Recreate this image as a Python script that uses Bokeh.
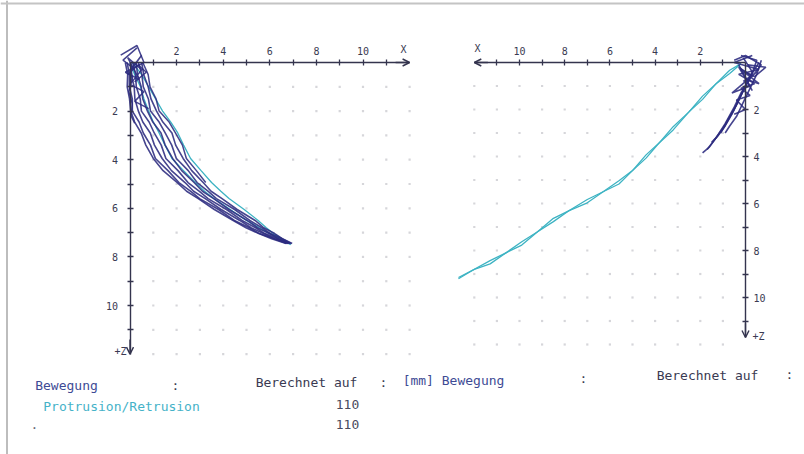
from bokeh.plotting import figure
from bokeh.models import Range1d, LinearAxis, FixedTicker, Arrow, OpenHead, Label, Span
from bokeh.embed import file_html
from bokeh.resources import INLINE

# ---------------- data ----------------
major_ticks = [2, 4, 6, 8, 10]
minor_ticks = [1, 3, 5, 7, 9, 11]
grid_steps = list(range(1, 13))

# left panel: bundle of navy traces sampled at common depths z (mm)
left_band_z = [0.0, 0.5, 1.0, 1.5, 2.0, 2.45, 2.9, 3.4, 3.95, 4.45, 4.94, 5.3, 5.6,
               6.05, 6.5, 6.8, 7.04, 7.25, 7.45]
left_navy_x = [
    [-0.2, -0.1, -0.12, -0.02, 0.03, 0.2, 0.48, 0.68, 1.0, 1.42, 2.03, 2.43, 2.93, 3.62, 4.43, 4.98, 5.53, 6.08, 6.7],
    [-0.12, -0.03, -0.03, 0.1, 0.1, 0.39, 0.57, 0.88, 1.09, 1.63, 2.1, 2.61, 2.99, 3.8, 4.48, 5.12, 5.55, 6.19, 6.73],
    [0.03, 0.05, 0.18, 0.21, 0.36, 0.55, 0.87, 1.05, 1.38, 1.78, 2.36, 2.73, 3.23, 3.91, 4.71, 5.2, 5.73, 6.21, 6.78],
    [0.12, 0.24, 0.27, 0.44, 0.49, 0.82, 1.04, 1.34, 1.54, 2.06, 2.49, 2.98, 3.35, 4.14, 4.81, 5.39, 5.79, 6.35, 6.82],
    [0.27, 0.32, 0.48, 0.55, 0.75, 0.98, 1.33, 1.51, 1.83, 2.22, 2.75, 3.11, 3.59, 4.25, 5.03, 5.47, 5.97, 6.37, 6.87],
    [0.36, 0.51, 0.57, 0.79, 0.88, 1.25, 1.51, 1.79, 1.99, 2.5, 2.88, 3.36, 3.71, 4.49, 5.14, 5.66, 6.03, 6.52, 6.91],
    [0.5, 0.59, 0.78, 0.9, 1.14, 1.41, 1.8, 1.96, 2.28, 2.65, 3.14, 3.48, 3.95, 4.6, 5.37, 5.74, 6.21, 6.54, 6.96],
]
# short navy strokes near the origin (x, z)
left_short_x = [
    [0.55, 0.78, 0.86, 1.12, 1.25, 1.68, 1.95, 2.25, 2.42, 2.85, 3.25],
    [0.0, 0.1, -0.05, 0.1, 0.05, 0.2],
    [-0.4, 0.3, 0.6, -0.2, 0.4, -0.1, 0.5, 0.0, 0.6, 0.2, 0.8],
    [0.3, -0.3, 0.1, 0.5, -0.1, 0.35, 0.7, 0.2],
]
left_short_z = [
    [0.0, 0.5, 1.0, 1.5, 2.0, 2.45, 2.9, 3.4, 3.95, 4.45, 4.94],
    [0.0, 0.6, 1.2, 1.7, 2.2, 2.5],
    [-0.3, -0.7, 0.0, 0.4, 0.7, -0.2, 0.3, 0.9, 1.2, 1.6, 1.9],
    [-0.6, -0.1, 0.2, -0.3, 0.5, 0.1, 0.4, 0.8],
]
left_cyan_x = [
    [0.1, 0.5, 0.8, 1.1, 1.4, 1.75, 2.05, 2.3, 2.6, 3.05, 3.5, 3.9, 4.25, 4.9, 5.5, 5.85, 6.15, 6.5, 6.85],
    [0.0, 0.2, 0.45, 0.6, 0.8, 1.0, 1.25, 1.5, 1.8, 2.3, 2.8, 3.2, 3.6, 4.3, 5.0, 5.55, 6.0, 6.45, 6.9],
]
left_cyan_z = [
    [0.0, 0.5, 1.0, 1.5, 2.0, 2.45, 2.9, 3.4, 3.95, 4.45, 4.94, 5.3, 5.6, 6.05, 6.5, 6.8, 7.04, 7.25, 7.45],
    [0.0, 0.5, 1.0, 1.5, 2.0, 2.45, 2.9, 3.4, 3.95, 4.45, 4.94, 5.3, 5.6, 6.05, 6.5, 6.8, 7.04, 7.25, 7.5],
]

# right panel traces (x mm to the left, z mm): two braided cyan passes
right_cyan_x = [0.2, 0.7, 1.3, 1.9, 2.5, 3.2, 3.8, 4.4, 5.0, 5.6, 6.3, 7.0, 7.8, 8.5, 9.2,
                9.9, 10.6, 11.3, 12.0, 12.7]
right_cyan_z = [
    [0.05, 0.47, 0.9, 1.43, 2.1, 2.87, 3.4, 3.93, 4.6, 5.17, 5.5, 5.83, 6.3, 6.77, 7.2, 7.63, 8.1, 8.57, 8.8, 9.2],
    [0.05, 0.33, 0.9, 1.57, 2.1, 2.73, 3.4, 4.07, 4.6, 5.03, 5.5, 5.97, 6.3, 6.63, 7.2, 7.77, 8.1, 8.43, 8.8, 9.15],
]
right_navy_x = [
    [-0.6, -0.2, 0.1, 0.4, 0.7, 1.0, 1.3, 1.6, 1.9],
    [0.1, -0.3, 0.0, 0.3, 0.6, 0.9, 1.2, 1.5],
    [0.3, -0.1, 0.2, 0.5, 0.8, 1.1],
    [-0.7, -0.5, -0.2, 0.1, 0.4, 0.7, 0.9],
    [-0.3, 0.5, -0.6, 0.3, -0.4, 0.2, -0.2, 0.4, 0.0, 0.5],
    [0.2, -0.5, -0.2, 0.2, 0.5, 0.9, 1.3, 1.7],
    [0.5, 0.0, -0.7, -0.3, 0.3, -0.2, 0.6, -0.5, 0.1],
    [-0.1, -0.9, -0.4, 0.2, -0.6, 0.0, -0.3],
]
right_navy_z = [
    [0.0, 0.6, 1.2, 1.8, 2.3, 2.8, 3.2, 3.6, 3.85],
    [-0.2, 0.4, 1.0, 1.6, 2.2, 2.7, 3.1, 3.4],
    [0.1, 0.8, 1.4, 2.0, 2.5, 3.0],
    [-0.1, 0.5, 1.1, 1.7, 2.3, 2.7, 3.0],
    [-0.3, 0.0, 0.3, 0.5, 0.9, 1.1, 1.4, 1.6, 2.0, 2.2],
    [-0.3, -0.1, 0.7, 1.3, 1.9, 2.6, 3.2, 3.7],
    [-0.1, -0.3, 0.1, 0.6, 0.2, 1.0, 1.3, 0.4, 0.8],
    [0.1, 0.2, 0.6, 0.3, 0.9, 0.7, 1.2],
]

footer_texts = ["Bewegung", ":", "Berechnet auf", ":", "[mm] Bewegung", ":",
                "Berechnet auf", ":", "Protrusion/Retrusion", "110", "110", "."]

# ---------------- layout / style ----------------
W, H = 804, 454
OXL, UXL, OZL, UZL = 129.5, 23.3, 62.0, 24.3      # left panel origin / scale (px)
OXR, UXR, OZR, UZR = 745.0, 22.6, 62.0, 23.5      # right panel origin / scale (px)

AX = "#34344e"
NAVY = "#2c2b80"
CYAN = "#3db3c3"
TXT = "#3a3a52"
MONO = "DejaVu Sans Mono"

p = figure(width=W, height=H, output_backend="svg", toolbar_location=None,
           x_range=Range1d(-OXL / UXL, (W - OXL) / UXL),
           y_range=Range1d((H - OZL) / UZL, -OZL / UZL),
           x_axis_type=None, y_axis_type=None, min_border=0)
p.extra_x_ranges = {"r": Range1d(OXR / UXR, (OXR - W) / UXR)}
p.extra_y_ranges = {"r": Range1d((H - OZR) / UZR, -OZR / UZR)}
p.outline_line_color = None
p.background_fill_color = "white"
p.border_fill_color = "white"

# scan frame lines (left and top)
p.add_layout(Span(location=(6.5 - OXL) / UXL, dimension="height",
                  line_color="#bdbdbd", line_width=2))
p.add_layout(Span(location=(3.0 - OZL) / UZL, dimension="width",
                  line_color="#c4c4c4", line_width=2))

# dotted grids
gx = [i for i in grid_steps for j in grid_steps]
gz = [j for i in grid_steps for j in grid_steps]
p.scatter(gx, gz, marker="square", size=2.2, color="#d6d6da", line_color=None)
p.scatter(gx, gz, marker="square", size=2.2, color="#d6d6da", line_color=None,
          x_range_name="r", y_range_name="r")

# traces
p.multi_line(left_cyan_x, left_cyan_z, line_color=CYAN, line_width=1.3)
p.multi_line(left_navy_x, [left_band_z] * len(left_navy_x), line_color=NAVY,
             line_width=1.6, line_alpha=0.88)
p.multi_line(left_short_x, left_short_z, line_color=NAVY, line_width=1.5, line_alpha=0.88)
p.multi_line([right_cyan_x] * len(right_cyan_z), right_cyan_z, line_color=CYAN,
             line_width=1.3, x_range_name="r", y_range_name="r")
p.multi_line(right_navy_x, right_navy_z, line_color=NAVY, line_width=1.6, line_alpha=0.88,
             x_range_name="r", y_range_name="r")


def make_axis(bounds, standoff, **kw):
    ax = LinearAxis(ticker=FixedTicker(ticks=major_ticks, minor_ticks=minor_ticks),
                    fixed_location=0, bounds=bounds, **kw)
    ax.axis_line_color = AX
    ax.axis_line_width = 1.4
    ax.major_tick_line_color = AX
    ax.minor_tick_line_color = AX
    ax.major_tick_line_width = 1.3
    ax.minor_tick_line_width = 1.3
    ax.major_tick_in = 3
    ax.major_tick_out = 3
    ax.minor_tick_in = 3
    ax.minor_tick_out = 3
    ax.major_label_text_font = MONO
    ax.major_label_text_font_size = "10px"
    ax.major_label_text_color = TXT
    ax.major_label_standoff = standoff
    return ax


p.add_layout(make_axis((0, 12), 5), "above")
p.add_layout(make_axis((0, 12), 9), "left")
p.add_layout(make_axis((0, 12), 5, x_range_name="r", y_range_name="r"), "above")
p.add_layout(make_axis((0, 11.7), 5, x_range_name="r", y_range_name="r"), "right")

# arrow heads
for (xs, ys, xe, ye, rn) in [(11.4, 0, 12, 0, "default"), (0, 11.4, 0, 12, "default"),
                             (11.4, 0, 12, 0, "r"), (0, 11.1, 0, 11.7, "r")]:
    p.add_layout(Arrow(x_start=xs, y_start=ys, x_end=xe, y_end=ye,
                       line_color=AX, line_width=1.4,
                       end=OpenHead(size=7, line_color=AX, line_width=1.4),
                       x_range_name=rn, y_range_name=rn))

# axis names
p.add_layout(Label(x=(403 - OXL) / UXL, y=(49 - OZL) / UZL, text="X", text_font=MONO,
                   text_font_size="10px", text_color=TXT, text_align="center",
                   text_baseline="middle"))
p.add_layout(Label(x=(126 - OXL) / UXL, y=(351 - OZL) / UZL, text="+Z", text_font=MONO,
                   text_font_size="10px", text_color=TXT, text_align="right",
                   text_baseline="middle"))
p.add_layout(Label(x=(OXR - 477) / UXR, y=(48 - OZR) / UZR, text="X", text_font=MONO,
                   text_font_size="10px", text_color=TXT, text_align="center",
                   text_baseline="middle", x_range_name="r", y_range_name="r"))
p.add_layout(Label(x=(OXR - 752) / UXR, y=(336 - OZR) / UZR, text="+Z", text_font=MONO,
                   text_font_size="10px", text_color=TXT, text_align="left",
                   text_baseline="middle", x_range_name="r", y_range_name="r"))

# footer text block (pixel centres in the page -> left panel data units)
footer_pos = [(66, 385), (175, 385), (306, 382), (383, 382), (453, 380), (583, 378),
              (707, 375), (789, 374), (121, 406), (347, 404), (347, 424), (34, 424)]
footer_col = ["#3e4b95", TXT, TXT, TXT, "#3e4b95", TXT, TXT, TXT, "#45b2c8",
              "#4a4a5e", "#4a4a5e", "#6a6a7a"]
for t, (px, py), c in zip(footer_texts, footer_pos, footer_col):
    p.add_layout(Label(x=(px - OXL) / UXL, y=(py - OZL) / UZL, text=t, text_font=MONO,
                       text_font_size="13px", text_color=c, text_align="center",
                       text_baseline="middle"))

open("out.html", "w").write(file_html(p, INLINE))
